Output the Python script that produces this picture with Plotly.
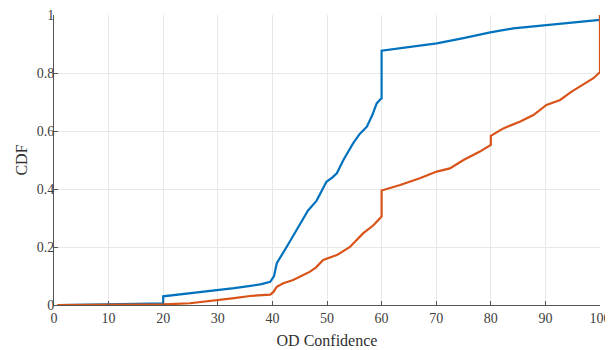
import plotly.graph_objects as go

blue_x = [1, 10, 15, 19.9, 20, 20, 23, 26, 30, 33, 36, 38, 39.6, 40.3, 40.8, 41.5, 42.6, 44, 45.1, 46.5, 48.1, 49.9, 51, 51.8, 53.0, 54.8, 56, 57.3, 58.3, 59.1, 59.95, 60, 60, 63.4, 65.8, 70.1, 75, 79.9, 84.1, 90.2, 96.3, 99.7, 100, 100]
blue_y = [0, 0.001, 0.004, 0.006, 0.006, 0.03, 0.036, 0.042, 0.052, 0.058, 0.066, 0.072, 0.08, 0.1, 0.144, 0.165, 0.2, 0.245, 0.28, 0.325, 0.36, 0.425, 0.44, 0.454, 0.5, 0.558, 0.59, 0.615, 0.655, 0.695, 0.713, 0.713, 0.877, 0.885, 0.891, 0.902, 0.92, 0.94, 0.954, 0.966, 0.977, 0.983, 0.983, 1.0]

# Orange series
red_x = [0.6, 17, 20, 24.9, 27, 29.8, 33, 35.9, 39.6, 40.2, 40.8, 42, 43.8, 46.9, 48, 49.3, 51.8, 54.2, 56.6, 58.5, 59.95, 60, 60, 63.4, 67, 70.1, 72.5, 75, 78, 79.95, 80, 80, 82.3, 85.3, 87.8, 90.2, 92.7, 94.8, 96.9, 98.8, 99.8, 100, 100]
red_y = [0, 0.001, 0.002, 0.006, 0.01, 0.017, 0.024, 0.031, 0.036, 0.045, 0.063, 0.075, 0.086, 0.115, 0.13, 0.155, 0.172, 0.2, 0.247, 0.275, 0.305, 0.305, 0.395, 0.414, 0.437, 0.46, 0.471, 0.5, 0.529, 0.552, 0.552, 0.583, 0.609, 0.632, 0.655, 0.69, 0.707, 0.736, 0.759, 0.782, 0.8, 0.8, 1.0]

x_ticks = [0, 10, 20, 30, 40, 50, 60, 70, 80, 90, 100]
y_ticks = [0, 0.2, 0.4, 0.6, 0.8, 1]
y_tick_labels = ["0", "0.2", "0.4", "0.6", "0.8", "1"]

fig = go.Figure()
fig.add_trace(go.Scatter(x=blue_x, y=blue_y, mode="lines",
                         line=dict(color="#0072BD", width=2.2), showlegend=False))
fig.add_trace(go.Scatter(x=red_x, y=red_y, mode="lines",
                         line=dict(color="#D95319", width=2.2), showlegend=False))

font_family = "Liberation Serif, DejaVu Serif, serif"
# page body adds an 8px offset; margins compensate so the plot area lands where the reference has it
fig.update_layout(
    width=613, height=350,
    margin=dict(l=46, r=21, t=7, b=53, autoexpand=False),
    plot_bgcolor="white", paper_bgcolor="white",
    font=dict(family=font_family, size=14, color="#404040"),
)
fig.update_xaxes(
    range=[0, 100], tickvals=x_ticks, ticks="inside", ticklen=4, tickcolor="#555555",
    showline=True, linecolor="#555555", linewidth=1, showgrid=True, gridcolor="#e8e8e8",
    zeroline=False, automargin=False, ticklabeloverflow="allow",
    title=dict(text="OD Confidence", font=dict(size=16, color="#303030"), standoff=10),
    tickfont=dict(size=14),
)
fig.update_yaxes(
    range=[0, 1], tickvals=y_ticks, ticktext=y_tick_labels, ticks="inside", ticklen=4,
    tickcolor="#555555", showline=True, linecolor="#555555", linewidth=1, showgrid=True,
    gridcolor="#e8e8e8", zeroline=False, automargin=False, ticklabelstandoff=-4,
    ticklabeloverflow="allow",
    title=dict(text="CDF", font=dict(size=16, color="#303030"), standoff=5),
    tickfont=dict(size=14),
)
fig.write_html("out.html")
